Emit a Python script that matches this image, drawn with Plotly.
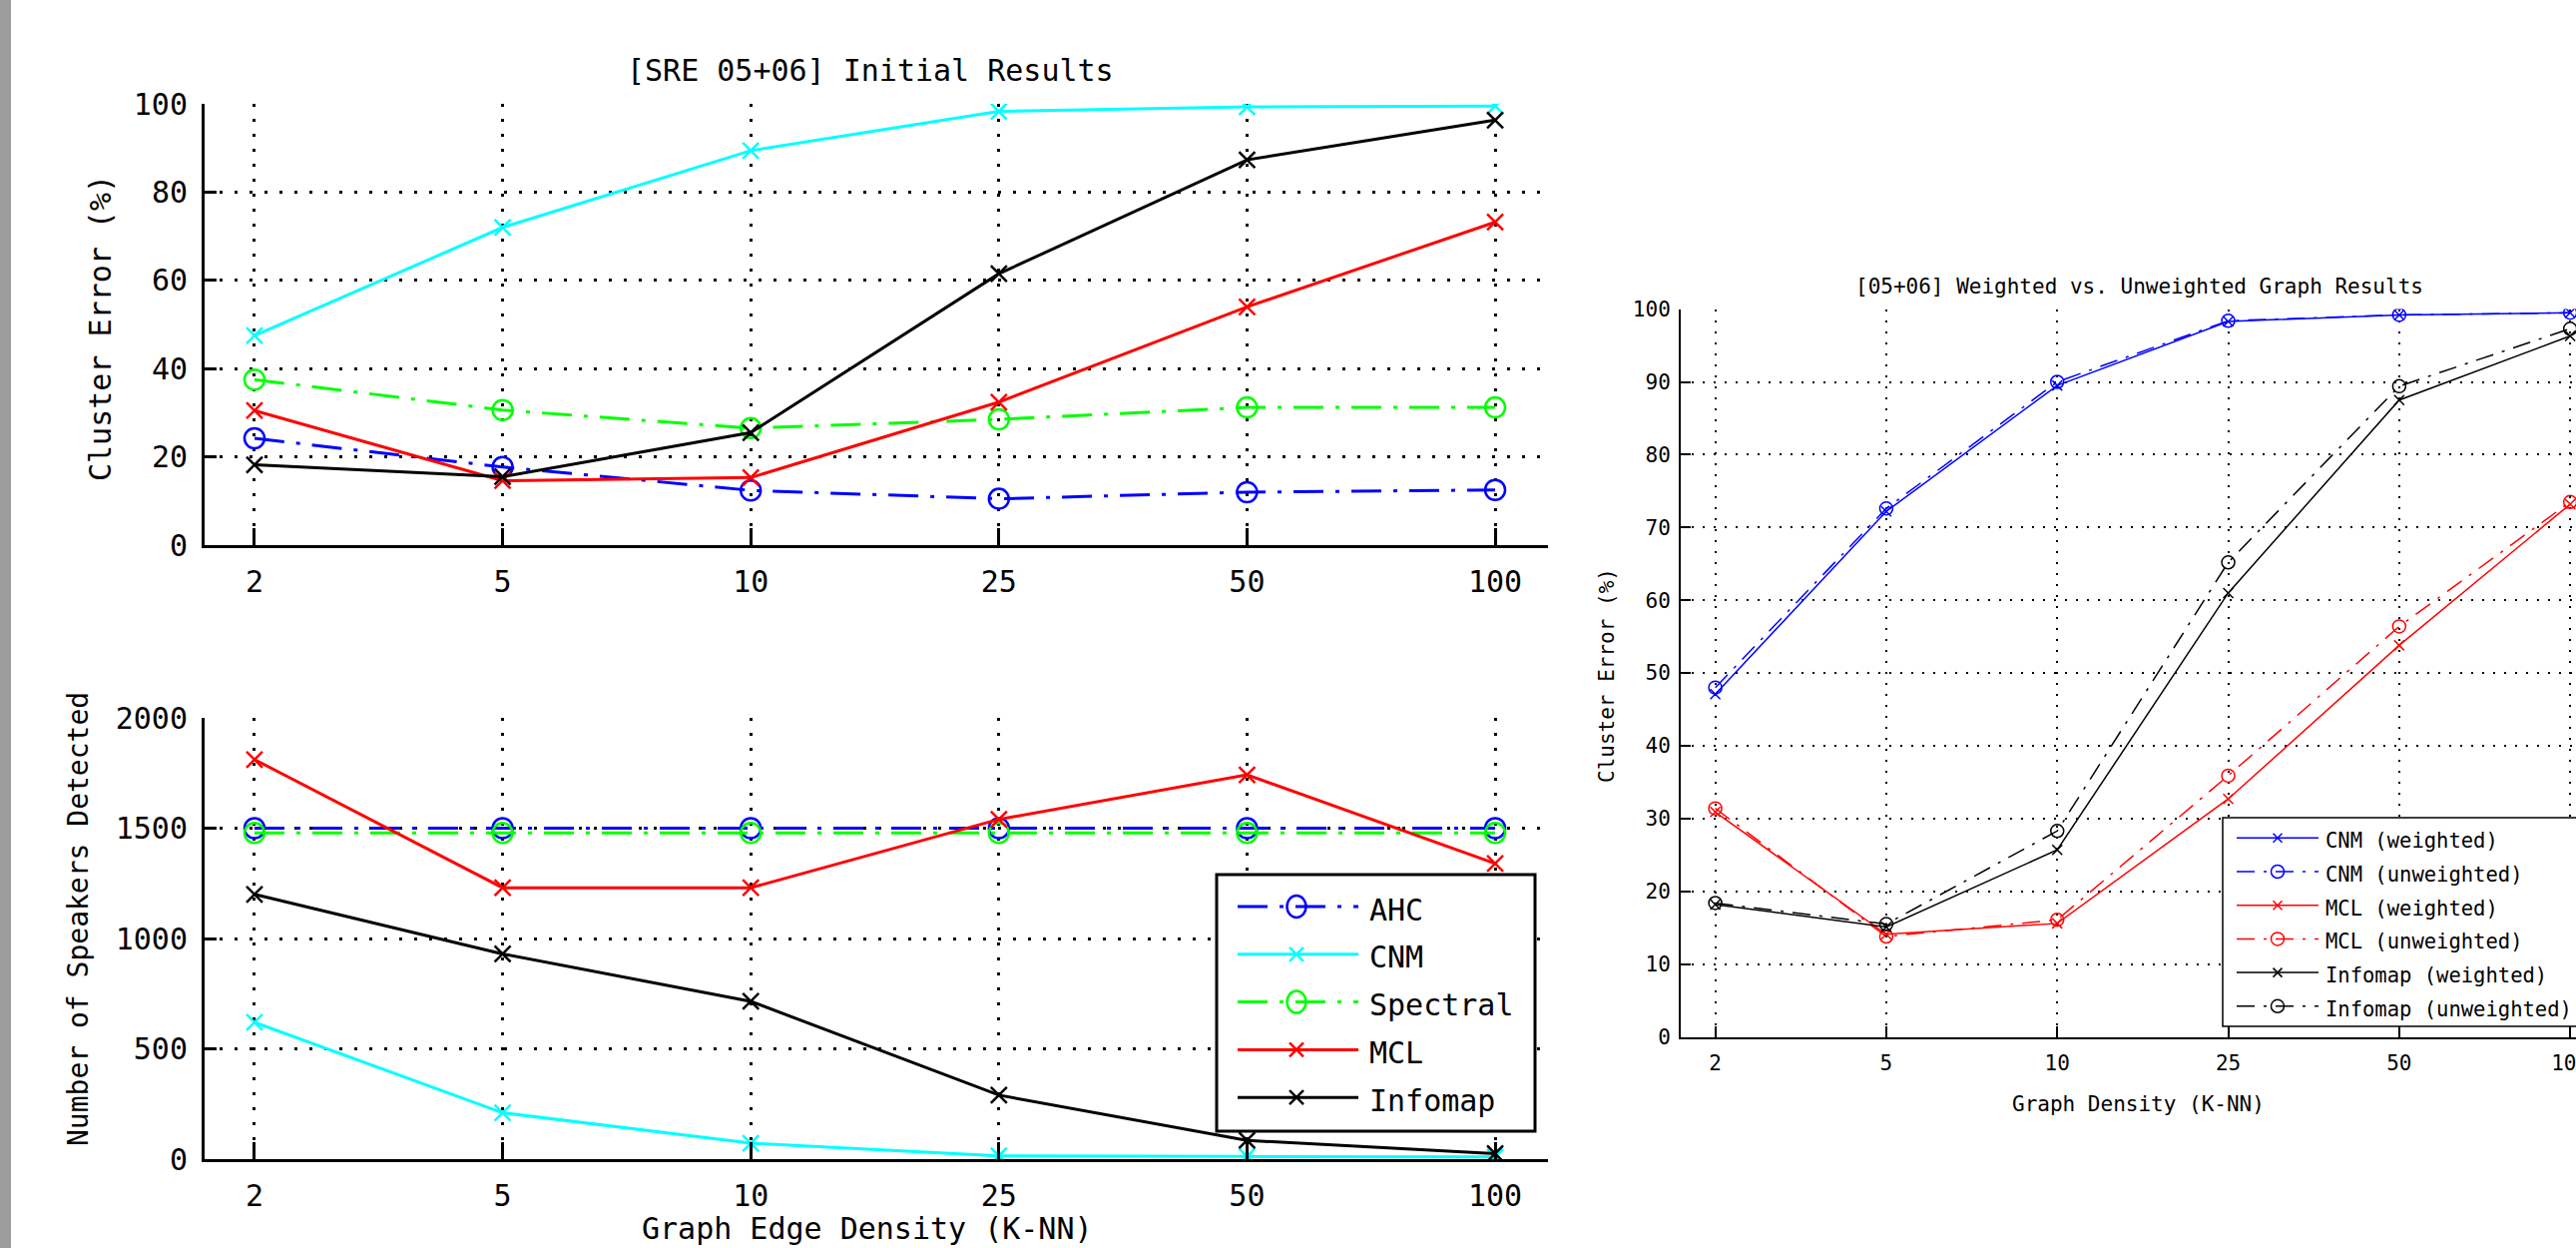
import plotly.graph_objects as go

# ---------------- data ----------------
K = ["2", "5", "10", "25", "50", "100"]

# [SRE 05+06] Initial Results - Cluster Error (%)
ahc_err = [24.2, 17.7, 12.4, 10.5, 12.0, 12.5]
cnm_err = [47.5, 72.0, 89.4, 98.3, 99.3, 99.5]
spectral_err = [37.5, 30.6, 26.5, 28.5, 31.2, 31.2]
mcl_err = [30.5, 14.6, 15.3, 32.4, 54.0, 73.2]
infomap_err = [18.2, 15.5, 25.5, 61.5, 87.3, 96.3]

# Number of Speakers Detected
ahc_spk = [1500, 1500, 1500, 1500, 1500, 1500]
cnm_spk = [620, 210, 72, 15, 12, 10]
spectral_spk = [1478, 1478, 1478, 1478, 1478, 1478]
mcl_spk = [1811, 1230, 1230, 1540, 1742, 1340]
infomap_spk = [1200, 930, 715, 290, 85, 25]

# [05+06] Weighted vs. Unweighted Graph Results
cnm_w = [47.1, 72.2, 89.5, 98.3, 99.2, 99.5]
cnm_u = [48.0, 72.6, 90.0, 98.4, 99.2, 99.5]
mcl_w = [30.9, 14.1, 15.6, 32.7, 53.8, 73.2]
mcl_u = [31.4, 13.8, 16.1, 35.9, 56.4, 73.5]
info_w = [18.2, 15.1, 25.7, 61.0, 87.5, 96.3]
info_u = [18.4, 15.5, 28.3, 65.2, 89.4, 97.3]

left_names = ["AHC", "CNM", "Spectral", "MCL", "Infomap"]
right_names = ["CNM (weighted)", "CNM (unweighted)", "MCL (weighted)",
               "MCL (unweighted)", "Infomap (weighted)", "Infomap (unweighted)"]

# ---------------- styles ----------------
W, H = 2581, 1250
MONO = "DejaVu Sans Mono, Liberation Mono, monospace"
BLUE, CYAN, GREEN, RED, BLACK = "#0000ff", "#00ffff", "#00ff00", "#ff0000", "#000000"
DD_L = "30px,12px,4px,12px"
DD_R = "18px,9px,3px,9px"


def px(x):
    return x / W


def py(y):
    return 1 - y / H


left_style = [
    (BLUE, DD_L, "o"),
    (CYAN, "solid", "x"),
    (GREEN, DD_L, "o"),
    (RED, "solid", "x"),
    (BLACK, "solid", "x"),
]
left_err = [ahc_err, cnm_err, spectral_err, mcl_err, infomap_err]
left_spk = [ahc_spk, cnm_spk, spectral_spk, mcl_spk, infomap_spk]

right_style = [
    (BLUE, "solid", "x"), (BLUE, DD_R, "o"),
    (RED, "solid", "x"), (RED, DD_R, "o"),
    (BLACK, "solid", "x"), (BLACK, DD_R, "o"),
]
right_vals = [cnm_w, cnm_u, mcl_w, mcl_u, info_w, info_u]

fig = go.Figure()


def marker_left(color, m):
    if m == "o":
        return dict(symbol="circle-open", size=20, color=color, line=dict(color=color, width=2.5))
    return dict(symbol="x-thin-open", size=16, color=color, line=dict(color=color, width=2.5))


def marker_right(color, m):
    if m == "o":
        return dict(symbol="circle-open", size=13, color=color, line=dict(color=color, width=1.5))
    return dict(symbol="x-thin-open", size=10, color=color, line=dict(color=color, width=1.5))


for name, (c, d, m), ev, sv in zip(left_names, left_style, left_err, left_spk):
    fig.add_trace(go.Scatter(x=K, y=ev, xaxis="x", yaxis="y", name=name, mode="lines+markers",
                             line=dict(color=c, width=3, dash=d), marker=marker_left(c, m),
                             showlegend=False))
    fig.add_trace(go.Scatter(x=K, y=sv, xaxis="x2", yaxis="y2", name=name, mode="lines+markers",
                             line=dict(color=c, width=3, dash=d), marker=marker_left(c, m),
                             showlegend=False))

for name, (c, d, m), v in zip(right_names, right_style, right_vals):
    fig.add_trace(go.Scatter(x=K, y=v, xaxis="x3", yaxis="y3", name=name, mode="lines+markers",
                             line=dict(color=c, width=1.5, dash=d), marker=marker_right(c, m),
                             showlegend=False))

# ---------------- axes ----------------
lfont = dict(family=MONO, size=30, color="black")
rfont = dict(family=MONO, size=21, color="black")

xl = dict(type="category", range=[-0.201, 5.213], showline=True, linecolor="black", linewidth=3,
          ticks="inside", ticklen=17, tickwidth=2.5, tickcolor="black",
          showgrid=True, gridcolor="black", gridwidth=3, griddash="3px,12px",
          zeroline=False, tickfont=lfont, ticklabelstandoff=8,
          domain=[px(205), px(1551)])
yl = dict(showline=True, linecolor="black", linewidth=3, ticks="inside", ticklen=12,
          tickwidth=3, tickcolor="black", showgrid=True, gridcolor="black", gridwidth=3,
          griddash="3px,12px", zeroline=False, tickfont=lfont, ticklabelstandoff=8)

fig.update_layout(
    xaxis=dict(xl, anchor="y"),
    yaxis=dict(yl, range=[0, 100], dtick=20, domain=[py(546), py(104)], anchor="x"),
    xaxis2=dict(xl, anchor="y2"),
    yaxis2=dict(yl, range=[0, 2000], dtick=500, domain=[py(1161), py(719)], anchor="x2"),
    xaxis3=dict(type="category", range=[-0.202, 5.034], showline=True, linecolor="black",
                linewidth=2, ticks="inside", ticklen=11, tickwidth=1.5, tickcolor="black",
                showgrid=True, gridcolor="black", gridwidth=1.5, griddash="2px,9px",
                zeroline=False, tickfont=rfont, ticklabelstandoff=6,
                ticklabeloverflow="allow", domain=[px(1684), 1.0], anchor="y3"),
    yaxis3=dict(range=[0, 100], dtick=10, showline=True, linecolor="black", linewidth=2,
                ticks="inside", ticklen=10, tickwidth=1.5, tickcolor="black",
                showgrid=True, gridcolor="black", gridwidth=1.5, griddash="2px,9px",
                zeroline=False, tickfont=rfont, ticklabelstandoff=4,
                domain=[py(1038.6), py(309.6)], anchor="x3"),
)

# ---------------- text ----------------
ann = []


def text(x, y, s, font, xanchor="center", yanchor="middle", angle=0):
    ann.append(dict(x=px(x), y=py(y), xref="paper", yref="paper", text=s, showarrow=False,
                    font=font, xanchor=xanchor, yanchor=yanchor, textangle=angle))


text(872, 71, "[SRE 05+06] Initial Results", lfont)
text(100, 329, "Cluster Error (%)", lfont, angle=-90)
text(78, 921, "Number of Speakers Detected", dict(lfont, size=28), angle=-90)
text(869, 1250, "Graph Edge Density (K-NN)", lfont, yanchor="bottom")
text(2143, 287, "[05+06] Weighted vs. Unweighted Graph Results", rfont)
text(1610, 677, "Cluster Error (%)", rfont, angle=-90)
text(2142, 1106, "Graph Density (K-NN)", rfont)

# ---------------- shapes (background strip + legends) ----------------
shapes = [dict(type="rect", xref="paper", yref="paper", x0=0, x1=px(11), y0=0, y1=1,
               fillcolor="#9c9c9c", line=dict(width=0), layer="below")]


def legend_entry(y, x0, x1, xm, color, dash, m, lw, size_x, rx, ry, mw):
    shapes.append(dict(type="line", xref="paper", yref="paper", x0=px(x0), x1=px(x1),
                       y0=py(y), y1=py(y), line=dict(color=color, width=lw, dash=dash)))
    if m == "o":
        shapes.append(dict(type="circle", xref="paper", yref="paper", xsizemode="pixel",
                           ysizemode="pixel", xanchor=px(xm), yanchor=py(y),
                           x0=-rx, x1=rx, y0=-ry, y1=ry, fillcolor="rgba(0,0,0,0)",
                           line=dict(color=color, width=mw)))
    else:
        s = size_x
        shapes.append(dict(type="path", xref="paper", yref="paper", xsizemode="pixel",
                           ysizemode="pixel", xanchor=px(xm), yanchor=py(y),
                           path=f"M{-s},{-s}L{s},{s}M{-s},{s}L{s},{-s}",
                           line=dict(color=color, width=mw)))


# left legend
shapes.append(dict(type="rect", xref="paper", yref="paper", x0=px(1219), x1=px(1538),
                   y0=py(1133), y1=py(876), fillcolor="white", line=dict(color="black", width=3)))
for i, (name, (c, d, m)) in enumerate(zip(left_names, left_style)):
    y = 908 + i * 47.8
    legend_entry(y, 1240, 1361, 1299, c, d, m, 3, 7, 9.5, 11, 2.5)
    text(1370, y + 3, name, lfont, xanchor="left")

# right legend
shapes.append(dict(type="rect", xref="paper", yref="paper", x0=px(2227), x1=px(2640),
                   y0=py(1028), y1=py(819), fillcolor="white", line=dict(color="black", width=1.5)))
rlegfont = dict(rfont, size=20.5)
for i, (name, (c, d, m)) in enumerate(zip(right_names, right_style)):
    y = 839.3 + i * 33.7
    legend_entry(y, 2241, 2323, 2282, c, d, m, 1.5, 4.5, 6.5, 6.5, 1.5)
    text(2328, y + 3, name, rlegfont, xanchor="left")

fig.update_layout(
    width=W, height=H,
    margin=dict(l=0, r=0, t=0, b=0, autoexpand=False),
    paper_bgcolor="white", plot_bgcolor="white",
    showlegend=False,
    annotations=ann, shapes=shapes,
)

fig.write_html("out.html", config={"displayModeBar": False},
               post_script="document.body.style.margin='0px';document.body.style.overflow='hidden';")
